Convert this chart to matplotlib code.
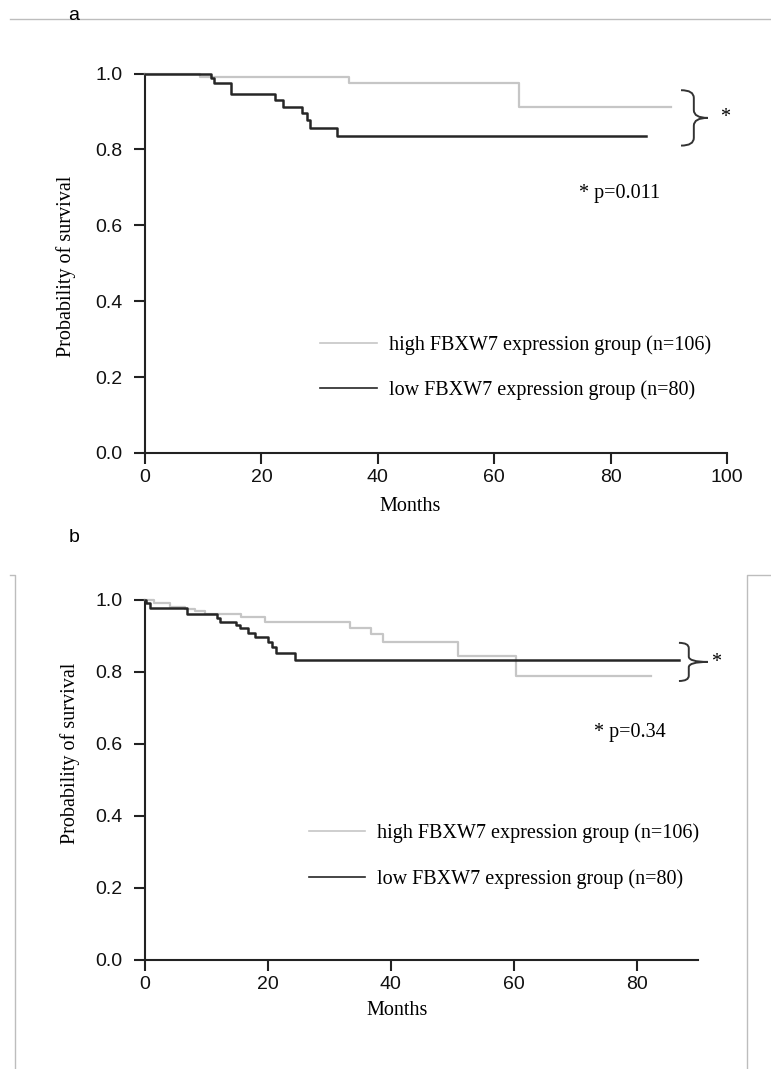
import matplotlib
matplotlib.use("Agg")
import matplotlib.pyplot as plt
from matplotlib.lines import Line2D
from matplotlib.path import Path
from matplotlib.patches import PathPatch

# panel a: overall survival
a_high_months = [0, 9.5, 35.0, 64.2, 90.4]
a_high_surv = [1.0, 0.990, 0.974, 0.912, 0.912]
a_low_months = [0, 11.3, 11.9, 14.8, 22.4, 23.7, 27.0, 27.9, 28.3, 33.0, 86.0]
a_low_surv = [1.0, 0.988, 0.975, 0.945, 0.930, 0.912, 0.895, 0.877, 0.857, 0.834, 0.834]
a_pvalue = "* p=0.011"

# panel b
b_high_months = [0, 1.4, 4.1, 6.5, 8.1, 9.7, 15.7, 19.5, 33.3, 36.8, 38.7, 50.9, 60.4, 82.3]
b_high_surv = [1.0, 0.991, 0.981, 0.975, 0.969, 0.960, 0.952, 0.940, 0.923, 0.905,
               0.882, 0.845, 0.788, 0.788]
b_low_months = [0, 0.1, 0.8, 6.8, 11.7, 12.2, 14.8, 15.4, 16.8, 17.9, 20.0, 20.6, 21.4, 24.4, 86.9]
b_low_surv = [1.0, 0.991, 0.979, 0.961, 0.949, 0.940, 0.931, 0.921, 0.907, 0.896,
              0.882, 0.870, 0.852, 0.833, 0.833]
b_pvalue = "* p=0.34"

high_label = "high FBXW7 expression group (n=106)"
low_label = "low FBXW7 expression group (n=80)"
y_ticks = [0.0, 0.2, 0.4, 0.6, 0.8, 1.0]

HIGH_COLOR = "#c6c6c6"
LOW_COLOR = "#262626"
SERIF = "Liberation Serif"
SANS = "Liberation Sans"

W, H = 771, 1069


def draw_brace(ax, x0, xm, xtip, ylo, yhi, color="#333333"):
    ymid = (ylo + yhi) / 2
    r = (yhi - ylo) * 0.14
    verts = [
        (x0, yhi), (xm, yhi), (xm, yhi - r),
        (xm, ymid + r),
        (xm, ymid), (xtip, ymid),
        (xm, ymid), (xm, ymid - r),
        (xm, ylo + r),
        (xm, ylo), (x0, ylo),
    ]
    codes = [
        Path.MOVETO, Path.CURVE3, Path.CURVE3,
        Path.LINETO,
        Path.CURVE3, Path.CURVE3,
        Path.CURVE3, Path.CURVE3,
        Path.LINETO,
        Path.CURVE3, Path.CURVE3,
    ]
    patch = PathPatch(Path(verts, codes), fill=False, edgecolor=color,
                      lw=1.4, clip_on=False)
    ax.add_patch(patch)


def km_panel(ax, high_t, high_s, low_t, low_s, xmax, ylabel_y):
    ax.step(high_t, high_s, where="post", color=HIGH_COLOR, lw=1.6,
            clip_on=False, zorder=3, label=high_label)
    ax.step(low_t, low_s, where="post", color=LOW_COLOR, lw=1.8,
            clip_on=False, zorder=4, label=low_label)
    ax.set_xlim(0, xmax)
    ax.set_ylim(0, 1)
    ax.set_yticks(y_ticks)
    ax.set_yticklabels(["%.1f" % v for v in y_ticks])
    ax.set_xticks(range(0, xmax + 1, 20))
    for side in ("top", "right"):
        ax.spines[side].set_visible(False)
    for side in ("left", "bottom"):
        ax.spines[side].set_linewidth(1.5)
        ax.spines[side].set_color("#222222")
    ax.tick_params(axis="both", direction="out", length=8, width=1.5,
                   color="#222222", labelsize=14)
    ax.tick_params(axis="y", pad=8)
    ax.tick_params(axis="x", pad=3.5)
    for lab in ax.get_xticklabels() + ax.get_yticklabels():
        lab.set_fontfamily(SANS)
        lab.set_color("#111111")
    ax.text(0.456, -0.14, "Months", transform=ax.transAxes, ha="center",
            va="center", fontsize=14.5, family=SERIF)
    ax.text(-0.135, ylabel_y, "Probability of survival", transform=ax.transAxes,
            ha="center", va="center", rotation=90, fontsize=14.5, family=SERIF)


fig = plt.figure(figsize=(W / 100, H / 100), dpi=100)

ax_a = fig.add_axes([145 / W, 1 - 453 / H, 582 / W, 379.5 / H])
km_panel(ax_a, a_high_months, a_high_surv, a_low_months, a_low_surv, 100, 0.493)
draw_brace(ax_a, 92.1, 94.3, 96.7, 0.81, 0.956)
ax_a.text(99.7, 0.883, "*", ha="center", va="center", fontsize=14.5, family=SERIF)
ax_a.text(74.5, 0.683, a_pvalue, ha="left", va="center", fontsize=14.5, family=SERIF)
leg = ax_a.legend(loc="center left", bbox_to_anchor=(0.30, 0.226), frameon=False,
                  prop={"family": SERIF, "size": 14.5}, handlelength=2.85,
                  handletextpad=0.6, labelspacing=1.25, borderpad=0, borderaxespad=0)
for line in leg.get_lines():
    line.set_linewidth(1.2)

ax_b = fig.add_axes([145 / W, 1 - 960 / H, 553 / W, 360 / H])
km_panel(ax_b, b_high_months, b_high_surv, b_low_months, b_low_surv, 90, 0.575)
draw_brace(ax_b, 86.9, 88.5, 91.6, 0.775, 0.881)
ax_b.text(92.9, 0.826, "*", ha="center", va="center", fontsize=14.5, family=SERIF)
ax_b.text(73.1, 0.633, b_pvalue, ha="left", va="center", fontsize=14.5, family=SERIF)
leg = ax_b.legend(loc="center left", bbox_to_anchor=(0.2966, 0.288), frameon=False,
                  prop={"family": SERIF, "size": 14.5}, handlelength=2.8,
                  handletextpad=0.6, labelspacing=1.3, borderpad=0, borderaxespad=0)
for line in leg.get_lines():
    line.set_linewidth(1.2)

# page decorations: rule above panel a, partial frame round panel b
frame = "#bdbdbd"
fig.add_artist(Line2D([10 / W, 1], [1 - 19 / H] * 2, color=frame, lw=1))
fig.add_artist(Line2D([10 / W, 15 / W, 15 / W], [1 - 575 / H, 1 - 575 / H, 0],
                      color=frame, lw=1))
fig.add_artist(Line2D([1, 747 / W, 747 / W], [1 - 575 / H, 1 - 575 / H, 0],
                      color=frame, lw=1))
fig.text(74 / W, 1 - 16 / H, "a", ha="center", va="center", fontsize=14, family=SANS)
fig.text(74 / W, 1 - 538 / H, "b", ha="center", va="center", fontsize=14, family=SANS)

fig.savefig("out.png", dpi=100)
